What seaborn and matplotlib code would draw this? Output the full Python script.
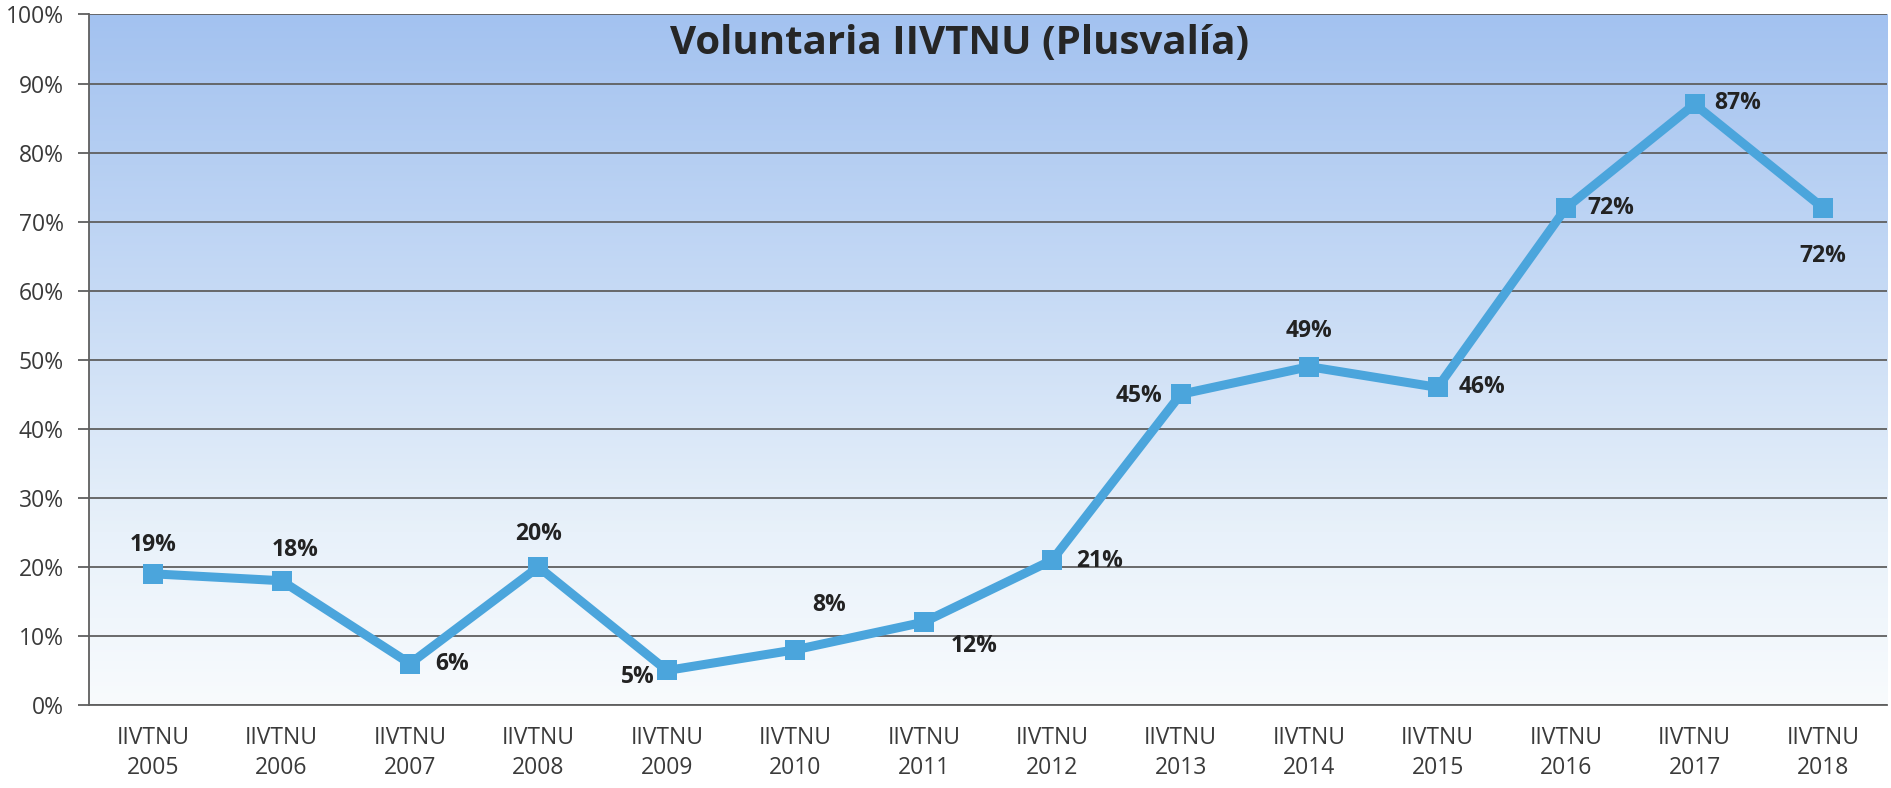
import numpy as np
import pandas as pd
import matplotlib
matplotlib.use("Agg")
import matplotlib.pyplot as plt
import seaborn as sns
from matplotlib.colors import LinearSegmentedColormap
from matplotlib.ticker import FixedLocator, PercentFormatter

# ---- data ----
years = ["2005", "2006", "2007", "2008", "2009", "2010", "2011",
         "2012", "2013", "2014", "2015", "2016", "2017", "2018"]
category_prefix = "IIVTNU"
values = [19, 18, 6, 20, 5, 8, 12, 21, 45, 49, 46, 72, 87, 72]
title = "Voluntaria IIVTNU (Plusvalía)"
yticks = [0, 10, 20, 30, 40, 50, 60, 70, 80, 90, 100]

# label offsets (points) relative to each marker
label_offsets = [(0, 21), (10, 22), (30, 0), (0, 24), (-21, -5), (24, 32), (36, -17),
                 (34, -1), (-30, -1), (0, 26), (32, 0), (32, 0), (31, 1), (0, -35)]

sns.set_theme(style="white")
plt.rcParams["font.family"] = ["Open Sans", "DejaVu Sans"]

fig = plt.figure(figsize=(18.91, 7.88), dpi=100)
ax = fig.add_axes([0.047, 0.1053, 0.951, 0.8763])

df = pd.DataFrame({"x": np.arange(len(years)), "y": values})

# gradient background
cmap = LinearSegmentedColormap.from_list(
    "bg", [(0.0, "#f8fbfd"), (0.25, "#e8f1fa"), (0.6, "#c6daf5"), (1.0, "#a3c2f0")])
grad = np.linspace(0, 1, 256).reshape(-1, 1)
ax.imshow(grad, cmap=cmap, aspect="auto", origin="lower",
          extent=[-0.5, len(years) - 0.5, 0, 100], zorder=0)

for t in yticks:
    ax.axhline(t, color="#5f5f5f", lw=1.3, zorder=1)

sns.lineplot(data=df, x="x", y="y", ax=ax, color="#4ba5dc", linewidth=6.5,
             marker="s", markersize=15, markeredgewidth=0, zorder=3)

for xi, v, (dx, dy) in zip(df["x"], values, label_offsets):
    ax.annotate(f"{v}%", (xi, v), xytext=(dx, dy), textcoords="offset points",
                ha="center", va="center", fontsize=16.5, fontweight="bold",
                color="#222222", zorder=4)

ax.text(0.484, 0.958, title, transform=ax.transAxes, ha="center", va="center",
        fontsize=29, fontweight="bold", color="#262626", zorder=4)

ax.set_xlim(-0.5, len(years) - 0.5)
ax.set_ylim(0, 100)
ax.set_xticks(np.arange(len(years)))
ax.set_xticklabels([f"{category_prefix}\n{y}" for y in years], fontsize=16.5,
                   color="#3a3a3a", linespacing=1.35)
ax.xaxis.set_minor_locator(FixedLocator(np.arange(len(years) + 1) - 0.5))
ax.tick_params(axis="x", which="major", length=0, pad=15)
ax.tick_params(axis="x", which="minor", length=9, width=1.3, color="#5f5f5f", direction="out")
ax.set_yticks(yticks)
ax.yaxis.set_major_formatter(PercentFormatter(decimals=0))
ax.tick_params(axis="y", which="major", length=8, width=1.3, color="#5f5f5f",
               labelsize=16.5, labelcolor="#3a3a3a", pad=10, left=True)
ax.set_xlabel("")
ax.set_ylabel("")
for s in ["top", "right"]:
    ax.spines[s].set_visible(False)
for s in ["left", "bottom"]:
    ax.spines[s].set_color("#5f5f5f")
    ax.spines[s].set_linewidth(1.3)
ax.grid(False)

fig.savefig("out.png", dpi=100, facecolor="white")
